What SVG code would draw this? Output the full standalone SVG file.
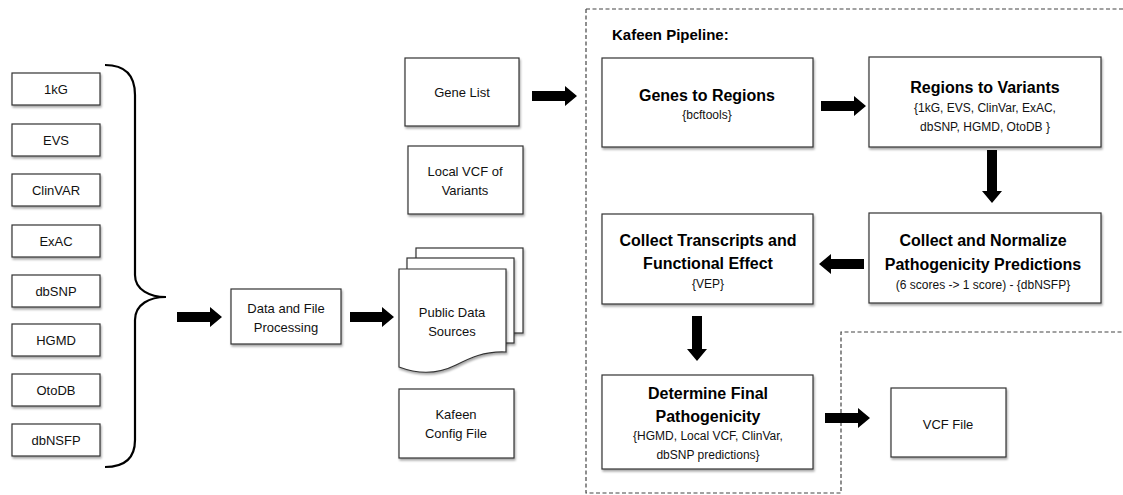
<svg xmlns="http://www.w3.org/2000/svg" width="1123" height="495" viewBox="0 0 1123 495">
<defs>
<filter id="sh" x="-10%" y="-10%" width="130%" height="140%">
<feDropShadow dx="1" dy="2" stdDeviation="1.2" flood-color="#000" flood-opacity="0.35"/>
</filter>
</defs>
<style>
.box{fill:#fff;stroke:#333;stroke-width:1.2;filter:url(#sh)}
.t{font-family:"Liberation Sans",Arial,sans-serif;font-size:13px;fill:#111;text-anchor:middle}
.b{font-family:"Liberation Sans",Arial,sans-serif;font-size:16px;font-weight:bold;fill:#000;text-anchor:middle}
.s{font-family:"Liberation Sans",Arial,sans-serif;font-size:12px;fill:#111;text-anchor:middle}
.dash{fill:none;stroke:#444;stroke-width:1.2;stroke-dasharray:4 2.5}
.arr{fill:#000}
.brace{fill:none;stroke:#000;stroke-width:2.2}
</style>
<rect width="1123" height="495" fill="#fff"/>
<g id="regions">
<path class="dash" d="M586,9 H1125 M586,9 V493 H841 V332 H1125"/>
<text x="612" y="40" font-family="Liberation Sans,Arial,sans-serif" font-size="15" font-weight="bold" fill="#000">Kafeen Pipeline:</text>
</g>
<g id="src-1kg"><rect class="box" x="12" y="73" width="88" height="32"/><text class="t" x="56" y="94">1kG</text></g>
<g id="src-evs"><rect class="box" x="12" y="124" width="88" height="32"/><text class="t" x="56" y="145">EVS</text></g>
<g id="src-clinvar"><rect class="box" x="12" y="174" width="88" height="32"/><text class="t" x="56" y="195">ClinVAR</text></g>
<g id="src-exac"><rect class="box" x="12" y="225" width="88" height="32"/><text class="t" x="56" y="246">ExAC</text></g>
<g id="src-dbsnp"><rect class="box" x="12" y="275" width="88" height="32"/><text class="t" x="56" y="296">dbSNP</text></g>
<g id="src-hgmd"><rect class="box" x="12" y="324" width="88" height="32"/><text class="t" x="56" y="345">HGMD</text></g>
<g id="src-otodb"><rect class="box" x="12" y="374" width="88" height="32"/><text class="t" x="56" y="395">OtoDB</text></g>
<g id="src-dbnsfp"><rect class="box" x="12" y="424" width="88" height="32"/><text class="t" x="56" y="445">dbNSFP</text></g>
<g id="brace"><path class="brace" d="M105,65 C125,65 135,75 135,95 V275 C135,290 150,297 166,297 C150,297 135,304 135,320 V440 C135,458 125,467 105,467"/></g>
<g id="processing"><rect class="box" x="231" y="289" width="110" height="55"/><text class="t" x="286" y="313">Data and File</text><text class="t" x="286" y="332">Processing</text></g>
<g id="public-data">
<rect class="box" x="416" y="248" width="107" height="85"/>
<rect class="box" x="407" y="258" width="107" height="85"/>
<path class="box" d="M399,269 H506 V352 C484,351 470,358 456,365 C440,373 420,375 399,367 Z"/>
<text class="t" x="452" y="317">Public Data</text><text class="t" x="452" y="336">Sources</text>
</g>
<g id="config"><rect class="box" x="399" y="389" width="115" height="69"/><text class="t" x="456" y="419">Kafeen</text><text class="t" x="456" y="438">Config File</text></g>
<g id="gene-list"><rect class="box" x="405" y="58" width="114" height="68"/><text class="t" x="462" y="97">Gene List</text></g>
<g id="local-vcf"><rect class="box" x="408" y="146" width="115" height="68"/><text class="t" x="465" y="176">Local VCF of</text><text class="t" x="465" y="195">Variants</text></g>
<g id="genes-regions"><rect class="box" x="602" y="58" width="211" height="89"/><text class="b" x="707" y="101">Genes to Regions</text><text class="s" x="707" y="119">{bcftools}</text></g>
<g id="regions-variants"><rect class="box" x="869" y="57" width="232" height="90"/><text class="b" x="985" y="93">Regions to Variants</text><text class="s" x="985" y="112">{1kG, EVS, ClinVar, ExAC,</text><text class="s" x="985" y="131">dbSNP, HGMD, OtoDB }</text></g>
<g id="normalize"><rect class="box" x="869" y="213" width="232" height="90"/><text class="b" x="983" y="246">Collect and Normalize</text><text class="b" x="983" y="270">Pathogenicity Predictions</text><text class="s" x="983" y="289">(6 scores -&gt; 1 score) - {dbNSFP}</text></g>
<g id="transcripts"><rect class="box" x="602" y="214" width="211" height="90"/><text class="b" x="708" y="246">Collect Transcripts and</text><text class="b" x="708" y="269">Functional Effect</text><text class="s" x="708" y="288">{VEP}</text></g>
<g id="final"><rect class="box" x="602" y="375" width="211" height="94"/><text class="b" x="708" y="399">Determine Final</text><text class="b" x="708" y="422">Pathogenicity</text><text class="s" x="708" y="440">{HGMD, Local VCF, ClinVar,</text><text class="s" x="708" y="459">dbSNP predictions}</text></g>
<g id="vcf-file"><rect class="box" x="891" y="388" width="115" height="69"/><text class="t" x="948" y="429">VCF File</text></g>
<g id="connectors">
<polygon class="arr" points="177,312 210,312 210,307 222,317 210,327 210,322 177,322"/>
<polygon class="arr" points="350,312 382,312 382,307 394,317 382,327 382,322 350,322"/>
<polygon class="arr" points="532,91 565,91 565,86 577,96 565,106 565,101 532,101"/>
<polygon class="arr" points="821,101 854,101 854,96 866,106 854,116 854,111 821,111"/>
<polygon class="arr" points="987,150 987,191 982,191 992,203 1002,191 997,191 997,150"/>
<polygon class="arr" points="864,259 831,259 831,254 819,264 831,274 831,269 864,269"/>
<polygon class="arr" points="692,316 692,349 687,349 697,361 707,349 702,349 702,316"/>
<polygon class="arr" points="825,413 858,413 858,408 870,418 858,428 858,423 825,423"/>
</g>
</svg>
